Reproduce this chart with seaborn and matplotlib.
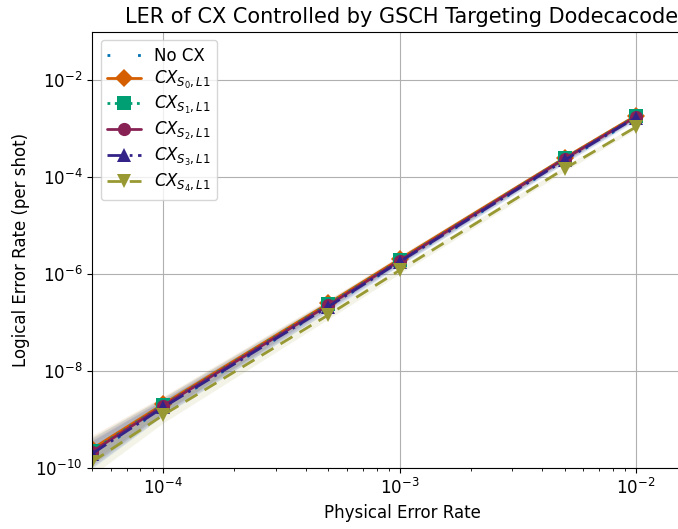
import numpy as np
import pandas as pd
import matplotlib
matplotlib.use("Agg")
import matplotlib.pyplot as plt
import seaborn as sns

# Data
p_phys = [5e-5, 1e-4, 5e-4, 1e-3, 5e-3, 1e-2]
ler_nocx = [1.9e-10, 1.75e-9, 2.1e-7, 1.75e-6, 2.2e-4, 1.6e-3]
ler_cx0 = [2.5e-10, 2.1e-9, 2.5e-7, 2.05e-6, 2.5e-4, 1.85e-3]
ler_cx1 = [2.3e-10, 2.0e-9, 2.4e-7, 1.95e-6, 2.45e-4, 1.8e-3]
ler_cx2 = [2.2e-10, 1.95e-9, 2.3e-7, 1.9e-6, 2.4e-4, 1.75e-3]
ler_cx3 = [2.0e-10, 1.8e-9, 2.15e-7, 1.8e-6, 2.25e-4, 1.7e-3]
ler_cx4 = [1.35e-10, 1.25e-9, 1.45e-7, 1.2e-6, 1.5e-4, 1.08e-3]
ci_factor = [1.9, 1.45, 1.22, 1.18, 1.14, 1.12]

labels = ["No CX", r"$CX_{S_0,L1}$", r"$CX_{S_1,L1}$", r"$CX_{S_2,L1}$",
          r"$CX_{S_3,L1}$", r"$CX_{S_4,L1}$"]
series = [ler_nocx, ler_cx0, ler_cx1, ler_cx2, ler_cx3, ler_cx4]
colors = ["#0072B2", "#D55E00", "#009E73", "#882255", "#332288", "#999933"]
markers = [None, "D", "s", "o", "^", "v"]
linestyles = [(0, (1, 10)), "-", ":", "-", (0, (6, 2, 1, 2)), (0, (5, 3))]

sns.set_style("ticks", {"axes.edgecolor": "black", "text.color": "black",
                        "xtick.color": "black", "ytick.color": "black",
                        "axes.labelcolor": "black"})
plt.rcParams["font.family"] = ["DejaVu Sans"]
plt.rcParams["font.size"] = 12

fig, ax = plt.subplots(figsize=(6.78, 5.29), dpi=100)
fig.subplots_adjust(left=0.136, right=1.05, top=0.94, bottom=0.115)

for lab, ys, c, m, ls in zip(labels, series, colors, markers, linestyles):
    df = pd.DataFrame({"p": p_phys, "ler": ys})
    lo = [y / f for y, f in zip(ys, ci_factor)]
    hi = [y * f for y, f in zip(ys, ci_factor)]
    ax.fill_between(p_phys, lo, hi, color=c, alpha=0.11, linewidth=0)
    sns.lineplot(data=df, x="p", y="ler", ax=ax, color=c, marker=m,
                 markersize=9.5, linestyle=ls, linewidth=2, label=lab,
                 markeredgewidth=0, estimator=None)

ax.set_xscale("log")
ax.set_yscale("log")
ax.set_xlim(5e-5, 2.1e-2)
ax.set_ylim(1e-10, 1e-1)
ax.set_yticks([1e-10, 1e-8, 1e-6, 1e-4, 1e-2])
ax.tick_params(labelsize=12)
ax.grid(True, which="major", color="#b0b0b0", linewidth=0.8)
ax.set_xlabel("Physical Error Rate", fontsize=12)
ax.set_ylabel("Logical Error Rate (per shot)", fontsize=12)
ax.set_title("LER of CX Controlled by GSCH Targeting Dodecacode", fontsize=15)
for s in ax.spines.values():
    s.set_visible(True)
ax.legend(loc="upper left", fontsize=12, labelspacing=0.22)
fig.savefig("out.png", dpi=100)
